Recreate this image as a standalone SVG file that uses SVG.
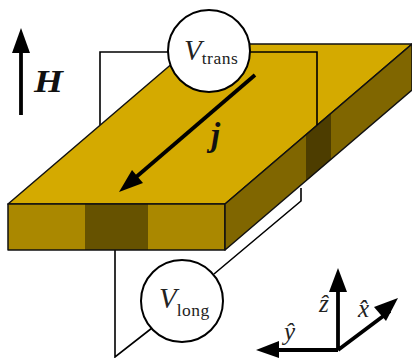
<svg xmlns="http://www.w3.org/2000/svg" width="412" height="358" viewBox="0 0 412 358">
<style>
.wire{fill:none;stroke:#000;stroke-width:1.6}
.edge{stroke:#111;stroke-width:1.5;stroke-linejoin:round}
.arrow{fill:none;stroke:#000;stroke-width:3.8}
.head{fill:#000;stroke:none}
.meter{fill:#fff;stroke:#000;stroke-width:2}
text{font-family:"Liberation Serif","Times New Roman",serif;fill:#222}
.it{font-style:italic}
.sub{font-size:17.500px;font-style:normal}
.b{font-weight:bold;font-style:italic;fill:#111}
</style>
<g id="connectors">
<path class="wire" d="M100 125V52H170"/>
<path class="wire" d="M115 250V357L152 328M214 274L301 201V188"/>
</g>
<g id="slab">
<path d="M8 204H225L412 44H195Z" fill="#d4aa00" class="edge"/>
<path d="M8 204H225V250H8Z" fill="#aa8800"/>
<path d="M85 204H148V250H85Z" fill="#665200"/>
<path d="M8 204H225V250H8Z" fill="none" class="edge"/>
<path d="M225 204L412 44V90L225 250Z" fill="#806600"/>
<path d="M306 135L331 113V159L306 181Z" fill="#4d3d00"/>
<path d="M225 204L412 44V90L225 250Z" fill="none" class="edge"/>
</g>
<g id="wire-top-overlay">
<path class="wire" d="M248 52H317V125"/>
</g>
<g id="V-trans">
<circle class="meter" cx="209" cy="51" r="41"/>
<text x="184" y="60" font-size="29" class="it">V<tspan class="sub" dy="4" letter-spacing="0.5">trans</tspan></text>
</g>
<g id="V-long">
<circle class="meter" cx="182" cy="301" r="41"/>
<text x="159" y="308" font-size="29" class="it">V<tspan class="sub" dy="8" letter-spacing="0.5">long</tspan></text>
</g>
<g id="H-field">
<path class="arrow" d="M21 115V48"/>
<path class="head" d="M21 28L30 53H12Z"/>
<text x="34" y="92" font-size="32" class="b" textLength="29" lengthAdjust="spacingAndGlyphs">H</text>
</g>
<g id="current">
<path class="arrow" d="M255 75L135 178"/>
<path class="head" d="M119 192L132 170L143 183Z"/>
<text x="211" y="146" font-size="33" class="b">j</text>
</g>
<g id="axes">
<path class="arrow" d="M338 350V285M338 350H272M338 350L390 311"/>
<path class="head" d="M338 268L347 292H329Z"/>
<path class="head" d="M256 350L279 341V358Z"/>
<path class="head" d="M398 298L386 321L374 307Z"/>
<text x="319" y="312" font-size="25" class="it">ẑ</text>
<text x="358" y="317" font-size="25" class="it">x̂</text>
<text x="284" y="340" font-size="25" class="it">ŷ</text>
</g>
</svg>
